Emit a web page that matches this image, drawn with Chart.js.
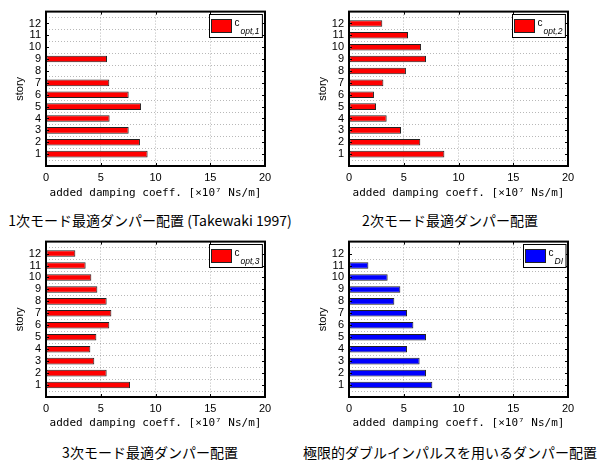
<!DOCTYPE html>
<html>
<head>
<meta charset="utf-8">
<script src="https://cdn.jsdelivr.net/npm/chart.js@4/dist/chart.umd.min.js"></script>
<style>
  body { margin: 0; background: #fff; }
  #wrap { position: relative; width: 601px; height: 463px; background: #fff; }
  canvas { position: absolute; }
  .cap {
    position: absolute; width: 300px; text-align: center;
    font: 14px "Noto Sans CJK JP", sans-serif; color: #000; line-height: 16px;
  }
</style>
</head>
<body>
<div id="wrap">
  <canvas id="c1" width="300" height="200" style="left:0;top:0"></canvas>
  <canvas id="c2" width="300" height="200" style="left:300px;top:0"></canvas>
  <canvas id="c3" width="300" height="200" style="left:0;top:230px"></canvas>
  <canvas id="c4" width="300" height="200" style="left:300px;top:230px"></canvas>
  <div class="cap" style="left:0;top:212px">1次モード最適ダンパー配置 (Takewaki 1997)</div>
  <div class="cap" style="left:300px;top:212px">2次モード最適ダンパー配置</div>
  <div class="cap" style="left:0;top:444px">3次モード最適ダンパー配置</div>
  <div class="cap" style="left:300px;top:444px">極限的ダブルインパルスを用いるダンパー配置</div>
</div>
<script>
// data (x10^7 Ns/m)
const stories = [1, 2, 3, 4, 5, 6, 7, 8, 9, 10, 11, 12];
const cOpt1 = [9.28, 8.58, 7.55, 5.81, 8.68, 7.55, 5.78, 0, 5.57, 0, 0, 0];
const cOpt2 = [8.71, 6.51, 4.75, 3.44, 2.47, 2.28, 3.14, 5.20, 7.03, 6.58, 5.39, 3.04];
const cOpt3 = [7.67, 5.54, 4.41, 4.05, 4.60, 5.78, 5.97, 5.54, 4.69, 4.14, 3.62, 2.68];
const cDI = [7.61, 7.03, 6.45, 5.30, 7.03, 5.88, 5.30, 4.14, 4.69, 3.53, 1.77, 0];
const xTicks = [0, 5, 10, 15, 20];
const legendSubs = ["opt,1", "opt,2", "opt,3", "DI"];

const FONT = '"Liberation Sans", Arial, sans-serif';

// box, inward ticks and the MATLAB-like legend
const framePlugin = {
  id: "frame",
  afterDraw(chart) {
    const { ctx, chartArea: a, scales } = chart;
    ctx.save();
    ctx.strokeStyle = "#000";
    ctx.lineWidth = 1;
    ctx.beginPath();
    stories.forEach(s => {
      const y = Math.round(scales.y.getPixelForValue(s)) + 0.5;
      ctx.moveTo(a.left, y); ctx.lineTo(a.left + 3, y);
      ctx.moveTo(a.right, y); ctx.lineTo(a.right - 3, y);
    });
    xTicks.slice(1, -1).forEach(v => {
      const x = Math.round(scales.x.getPixelForValue(v)) + 0.5;
      ctx.moveTo(x, a.bottom); ctx.lineTo(x, a.bottom - 3);
      ctx.moveTo(x, a.top); ctx.lineTo(x, a.top + 3);
    });
    ctx.stroke();
    ctx.lineWidth = 2;
    ctx.strokeRect(a.left, a.top, a.right - a.left, a.bottom - a.top);

    // legend
    const ds = chart.data.datasets[0];
    ctx.font = "10px " + FONT;
    const cw = ctx.measureText("c").width;
    ctx.font = "italic 8.5px " + FONT;
    const sw = ctx.measureText(ds.label).width;
    const w = 2 + 20 + 3 + cw + 1 + sw + 3;
    const h = 23;
    const bx = Math.round(a.right - 3 - w) + 0.5;
    const by = Math.round(a.top + 2) + 0.5;
    ctx.fillStyle = "#fff";
    ctx.fillRect(bx, by, w, h);
    ctx.lineWidth = 1;
    ctx.strokeStyle = "#000";
    ctx.strokeRect(bx, by, w, h);
    ctx.fillStyle = ds.backgroundColor;
    ctx.fillRect(bx + 2, by + 5, 20, 13);
    ctx.strokeStyle = "#222";
    ctx.strokeRect(bx + 2, by + 5, 20, 13);
    ctx.fillStyle = "#000";
    ctx.textBaseline = "alphabetic";
    ctx.font = "10px " + FONT;
    ctx.fillText("c", bx + 25, by + 11);
    ctx.font = "italic 8.5px " + FONT;
    ctx.fillText(ds.label, bx + 25 + cw + 1, by + 19);
    ctx.restore();
  }
};

function makeChart(id, values, sub, color, box) {
  return new Chart(document.getElementById(id), {
    type: "bar",
    data: {
      datasets: [{
        label: sub,
        data: stories.map((s, i) => ({ x: values[i], y: s })),
        backgroundColor: color,
        borderColor: "#222",
        borderWidth: 1,
        borderSkipped: false,
        barPercentage: 0.55,
        categoryPercentage: 1
      }]
    },
    options: {
      indexAxis: "y",
      responsive: false,
      animation: false,
      devicePixelRatio: 1,
      layout: { padding: { left: box.padLeft, top: box.top, right: 300 - box.right, bottom: 0 } },
      plugins: { legend: { display: false }, tooltip: { enabled: false } },
      scales: {
        x: {
          type: "linear", min: 0, max: 20,
          afterBuildTicks: s => { s.ticks = xTicks.map(v => ({ value: v })); },
          afterFit: s => { s.height = 200 - box.bottom; },
          ticks: { color: "#000", font: { family: FONT, size: 11 }, padding: 5, maxRotation: 0, autoSkip: false },
          grid: { color: "rgba(0,0,0,0.28)", drawTicks: false },
          border: { display: false, dash: [1, 2] },
          title: {
            display: true, text: "added damping coeff. [×10⁷ Ns/m]", color: "#000",
            font: { family: '"DejaVu Sans Mono", monospace', size: 11 }, padding: 0
          }
        },
        y: {
          type: "linear", min: 0, max: 13, offset: false,
          afterBuildTicks: s => { s.ticks = [0].concat(stories, [13]).map(v => ({ value: v })); },
          afterFit: s => { s.width = box.left - box.padLeft; },
          ticks: {
            color: "#000", font: { family: FONT, size: 11 }, padding: 5, autoSkip: false,
            callback: v => (v >= 1 && v <= 12 ? String(v) : "")
          },
          grid: { color: "rgba(0,0,0,0.28)", drawTicks: false },
          border: { display: false, dash: [1, 2] },
          title: {
            display: true, text: "story", color: "#000",
            font: { family: FONT, size: 11 }, padding: 0
          }
        }
      }
    },
    plugins: [framePlugin]
  });
}

makeChart("c1", cOpt1, legendSubs[0], "#ff0000", { padLeft: 13, left: 46, right: 265, top: 10, bottom: 166 });
makeChart("c2", cOpt2, legendSubs[1], "#ff0000", { padLeft: 16, left: 49, right: 268, top: 9, bottom: 166 });
makeChart("c3", cOpt3, legendSubs[2], "#ff0000", { padLeft: 13, left: 46, right: 265, top: 10, bottom: 167 });
makeChart("c4", cDI, legendSubs[3], "#0000ff", { padLeft: 16, left: 49, right: 268, top: 9, bottom: 167 });
</script>
</body>
</html>
